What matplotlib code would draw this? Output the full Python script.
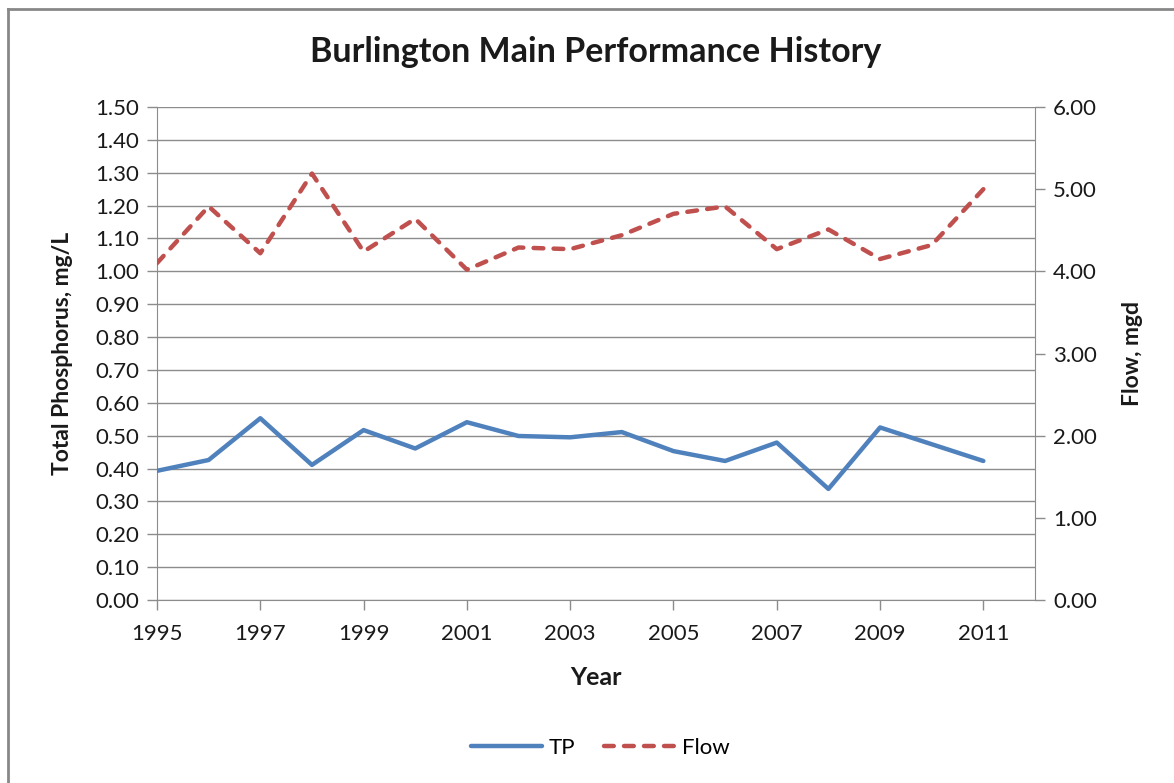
import matplotlib
matplotlib.use("Agg")
import matplotlib.pyplot as plt
from matplotlib.lines import Line2D

years = list(range(1995, 2012))
tp = [0.393, 0.426, 0.553, 0.411, 0.517, 0.461, 0.541, 0.499, 0.495,
      0.511, 0.453, 0.423, 0.479, 0.338, 0.525, 0.474, 0.423]
flow = [4.10, 4.79, 4.22, 5.19, 4.24, 4.64, 4.02, 4.29, 4.27,
        4.44, 4.70, 4.79, 4.27, 4.51, 4.15, 4.32, 5.00]
left_ticks = [i / 10 for i in range(0, 16)]
right_ticks = [0, 1, 2, 3, 4, 5, 6]
x_ticks = list(range(1995, 2012, 2))

plt.rcParams['font.family'] = ['Lato', 'DejaVu Sans']
blue = '#4F81BD'
red = '#C0504D'
grid = '#8C8C8C'
txt = '#1a1a1a'
LW = 3.2

fig = plt.figure(figsize=(11.74, 7.83), dpi=100)
ax = fig.add_axes([157/1174, 1-600/783, (1035-157)/1174, (600-107)/783])
ax2 = ax.twinx()

ax.plot(years, tp, color=blue, lw=LW, solid_capstyle='round', solid_joinstyle='round', zorder=3)
ax2.plot(years, flow, color=red, lw=LW, dashes=(2.2, 2.3), dash_capstyle='round',
         dash_joinstyle='round', zorder=3)

ax.set_xlim(1995, 2012)
ax.set_ylim(0, 1.5)
ax2.set_ylim(0, 6)
ax.set_yticks(left_ticks)
ax.set_yticklabels([f"{v:.2f}" for v in left_ticks])
ax2.set_yticks(right_ticks)
ax2.set_yticklabels([f"{v:.2f}" for v in right_ticks])
ax.set_xticks(x_ticks)
ax.set_xticklabels([str(y) for y in x_ticks])

ax.yaxis.grid(True, color=grid, lw=1.0)
ax.set_axisbelow(True)
for a in (ax, ax2):
    for s in a.spines.values():
        s.set_visible(False)
    a.tick_params(length=7, width=1, color=grid, labelsize=16, labelcolor=txt, pad=6)
ax.spines['left'].set_visible(True)
ax.spines['left'].set_color(grid)
ax.spines['bottom'].set_visible(True)
ax.spines['bottom'].set_color(grid)
ax2.spines['right'].set_visible(True)
ax2.spines['right'].set_color(grid)
ax.tick_params(axis='x', pad=10)

ax.set_xlabel('Year', fontsize=18, fontweight='bold', color=txt, labelpad=16)
ax.set_ylabel('Total Phosphorus, mg/L', fontsize=16.5, fontweight='bold', color=txt, labelpad=16)
ax2.set_ylabel('Flow, mgd', fontsize=16.5, fontweight='bold', color=txt, labelpad=18)

fig.text(596/1174, 1-52/783, 'Burlington Main Performance History', ha='center', va='center',
         fontsize=24.5, fontweight='bold', color=txt)

handles = [Line2D([], [], color=blue, lw=LW, solid_capstyle='round'),
           Line2D([], [], color=red, lw=LW, dashes=(2.2, 2.3), dash_capstyle='round')]
fig.legend(handles, ['TP', 'Flow'], loc='center', bbox_to_anchor=(600/1174, 1-748/783),
           ncol=2, frameon=False, fontsize=16, handlelength=3.2, columnspacing=1.3,
           handletextpad=0.3)

# chart border
fig.add_artist(Line2D([8/1174, 8/1174], [0, 1-9/783], color='#888888', lw=2, transform=fig.transFigure))
fig.add_artist(Line2D([8/1174, 1], [1-9/783, 1-9/783], color='#888888', lw=2, transform=fig.transFigure))

fig.savefig('out.png', dpi=100)
